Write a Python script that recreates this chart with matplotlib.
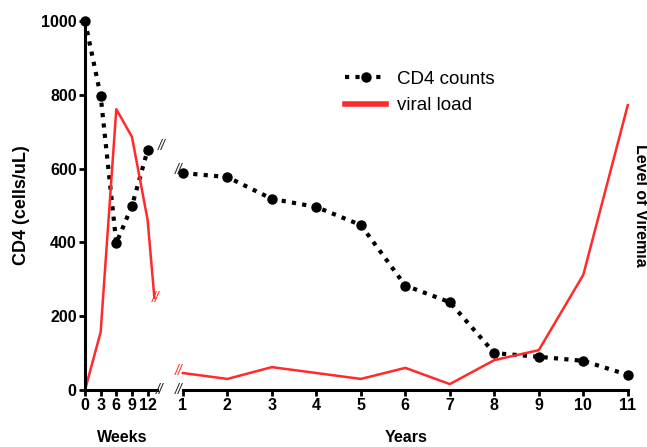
import matplotlib.pyplot as plt
import numpy as np

plt.rcParams['font.family'] = ['Liberation Sans', 'DejaVu Sans']

# early infection, sampled in weeks
weeks = [0, 3, 6, 9, 12]
cd4_weeks = [1000, 797, 398, 499, 650]
vl_weeks_x = [0, 3, 6, 9, 12, 13.3]
vl_weeks = [0, 157, 761, 686, 461, 250]

# chronic phase, sampled in years
years = [1, 2, 3, 4, 5, 6, 7, 8, 9, 10, 11]
cd4_years = [588, 577, 518, 496, 447, 283, 238, 100, 90, 79, 41]
vl_years = [46, 30, 62, 46, 30, 60, 16, 81, 108, 312, 772]

week_ticks = [0, 3, 6, 9, 12]
year_ticks = years
y_ticks = [0, 200, 400, 600, 800, 1000]

W, H = 647, 447
fig = plt.figure(figsize=(W / 100, H / 100), dpi=100)

bottom = (H - 390) / H
height = 369 / H
ax1 = fig.add_axes([85 / W, bottom, (157 - 85) / W, height])
ax2 = fig.add_axes([174 / W, bottom, (630 - 174) / W, height])

dot_style = dict(color='black', linestyle=(0, (1, 1.5)), linewidth=3,
                 marker='o', markersize=6.5, clip_on=False)
red_style = dict(color='#ff2a2a', linewidth=1.8, clip_on=False)

ax1.plot(weeks, cd4_weeks, label='CD4 counts', **dot_style)
ax1.plot(vl_weeks_x, vl_weeks, label='viral load', **red_style)
ax2.plot(years, cd4_years, **dot_style)
ax2.plot(years, vl_years, **red_style)

for ax in (ax1, ax2):
    ax.set_ylim(0, 1000)
    ax.spines['top'].set_visible(False)
    ax.spines['right'].set_visible(False)
    ax.spines['bottom'].set_linewidth(2.2)
    ax.tick_params(axis='x', width=2, length=4, labelsize=11.5, pad=2)
    ax.patch.set_visible(False)

ax1.set_xlim(0, 13.8)
ax1.set_xticks(week_ticks)
ax1.spines['left'].set_linewidth(2.2)
ax1.set_yticks(y_ticks)
ax1.tick_params(axis='y', width=2, length=4, labelsize=11.5, pad=2)
for lbl in ax1.get_xticklabels() + ax1.get_yticklabels():
    lbl.set_fontweight('bold')
ax1.set_ylabel('CD4 (cells/uL)', fontsize=13, fontweight='bold', labelpad=8)

ax2.set_xlim(0.8, 11.05)
ax2.set_xticks(year_ticks)
ax2.spines['left'].set_visible(False)
ax2.spines['bottom'].set_bounds(1, 11)
ax2.set_yticks([])
for lbl in ax2.get_xticklabels():
    lbl.set_fontweight('bold')

# axis break marks
brk = dict(fontsize=10, style='italic', ha='center', va='center',
           clip_on=False)
ax1.text(14.3, 0, '//', color='#222222', **brk)
ax2.text(0.9, 0, '//', color='#222222', **brk)
ax1.text(13.6, 250, '//', color='#ff2a2a', **brk)
ax2.text(0.9, 52, '//', color='#ff2a2a', **brk)
ax1.text(14.7, 660, '//', color='#222222', **brk)
ax2.text(0.9, 595, '//', color='#222222', **brk)

fig.text(122 / W, 1 - 438 / H, 'Weeks', fontsize=11.5, fontweight='bold',
         ha='center', va='center')
fig.text(406 / W, 1 - 438 / H, 'Years', fontsize=11.5, fontweight='bold',
         ha='center', va='center')
fig.text(640 / W, 1 - 205 / H, 'Level of Viremia', fontsize=11.5,
         fontweight='bold', rotation=-90, ha='center', va='center')

leg = fig.legend(loc='upper left', bbox_to_anchor=(328 / W, 1 - 54 / H),
                 frameon=False, fontsize=13.5, handlelength=2.2,
                 handletextpad=0.6, labelspacing=0.5)
leg.get_lines()[1].set_linewidth(4)

fig.savefig('out.png', dpi=100)
